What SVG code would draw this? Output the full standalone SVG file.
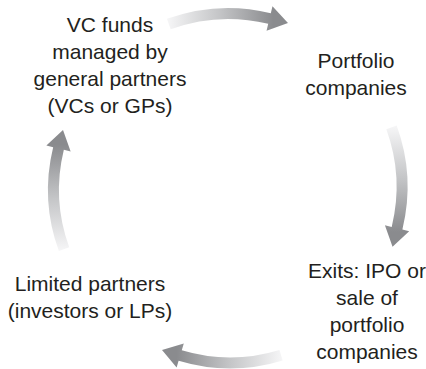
<svg xmlns="http://www.w3.org/2000/svg" xmlns:xlink="http://www.w3.org/1999/xlink" width="426" height="369" viewBox="0 0 426 369">
  <style>
    .lbl { font-family: "Liberation Sans", Arial, sans-serif; font-size: 21px; fill: #231f20; text-anchor: middle; }
  </style>
  <defs>
    <linearGradient id="arrowGrad" gradientUnits="userSpaceOnUse" x1="163" y1="-62" x2="165" y2="45">
      <stop offset="0" stop-color="#f7f7f8"/>
      <stop offset="0.5" stop-color="#c4c5c7"/>
      <stop offset="1" stop-color="#8a8b8e"/>
    </linearGradient>
    <path id="arrow" fill="url(#arrowGrad)" d="M158.34,-57.63 L168.68,-61.39 A179.5,179.5 0 0 1 174.39,42.51 L181.19,44.17 L164.55,59.67 L156.90,38.25 L163.71,39.91 A168.5,168.5 0 0 0 158.34,-57.63 Z"/>
  </defs>
  <rect width="426" height="369" fill="#ffffff"/>
  <g id="connectors">
    <use xlink:href="#arrow" transform="translate(228.3,187.55) rotate(-90)"/>
    <use xlink:href="#arrow" transform="translate(228,187)"/>
    <use xlink:href="#arrow" transform="translate(230.2,188.8) rotate(93)"/>
    <use xlink:href="#arrow" transform="translate(227.55,189.67) rotate(180)"/>
  </g>
  <g id="vc-funds">
    <text class="lbl" x="110" y="32">VC funds</text>
    <text class="lbl" x="110" y="59">managed by</text>
    <text class="lbl" x="110" y="86">general partners</text>
    <text class="lbl" x="110" y="113">(VCs or GPs)</text>
  </g>
  <g id="portfolio">
    <text class="lbl" x="356" y="68">Portfolio</text>
    <text class="lbl" x="356" y="95">companies</text>
  </g>
  <g id="exits">
    <text class="lbl" x="367" y="278">Exits: IPO or</text>
    <text class="lbl" x="367" y="305">sale of</text>
    <text class="lbl" x="367" y="332">portfolio</text>
    <text class="lbl" x="367" y="359">companies</text>
  </g>
  <g id="limited-partners">
    <text class="lbl" x="90" y="291">Limited partners</text>
    <text class="lbl" x="90" y="318">(investors or LPs)</text>
  </g>
</svg>
